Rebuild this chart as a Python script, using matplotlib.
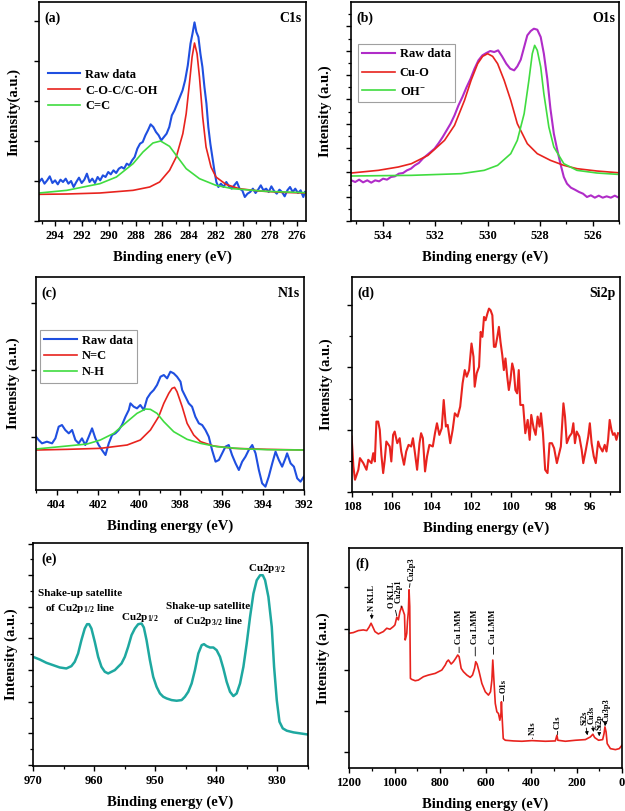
import numpy as np
import matplotlib
matplotlib.use("Agg")
import matplotlib.pyplot as plt
from matplotlib.ticker import MultipleLocator, FixedLocator, NullFormatter

plt.rcParams['font.family'] = ['Liberation Serif', 'DejaVu Serif']
plt.rcParams['font.weight'] = 'bold'
plt.rcParams['mathtext.fontset'] = 'custom'
plt.rcParams['mathtext.rm'] = 'Liberation Serif:bold'
plt.rcParams['mathtext.bf'] = 'Liberation Serif:bold'
plt.rcParams['mathtext.it'] = 'Liberation Serif:bold:italic'
plt.rcParams['mathtext.default'] = 'rm'

# ---------------- (a) C1s ----------------
c1s_raw_ev = [295.19, 294.99, 294.79, 294.59, 294.40, 294.20, 294.00, 293.80, 293.60, 293.41,
              293.21, 293.01, 292.81, 292.62, 292.42, 292.22, 292.02, 291.82, 291.63, 291.43,
              291.23, 291.03, 290.83, 290.64, 290.44, 290.24, 290.04, 289.85, 289.65, 289.45,
              289.25, 289.05, 288.86, 288.66, 288.46, 288.26, 288.07, 287.87, 287.67, 287.47,
              287.27, 287.08, 286.88, 286.68, 286.48, 286.28, 286.09, 285.89, 285.69, 285.49,
              285.30, 285.10, 284.90, 284.70, 284.50, 284.31, 284.11, 283.91, 283.76, 283.61,
              283.47, 283.32, 283.17, 283.02, 282.87, 282.72, 282.58, 282.43, 282.28, 282.13,
              281.98, 281.83, 281.64, 281.44, 281.24, 281.04, 280.84, 280.65, 280.45, 280.25,
              280.05, 279.86, 279.66, 279.46, 279.26, 279.06, 278.87, 278.67, 278.47, 278.27,
              278.08, 277.88, 277.68, 277.48, 277.28, 277.09, 276.89, 276.69, 276.49, 276.29,
              276.10, 275.90, 275.70, 275.50, 275.38]
c1s_raw = [117, 127, 112, 122, 134, 114, 122, 110, 124, 117,
           127, 112, 120, 102, 117, 130, 114, 124, 142, 117,
           127, 114, 132, 122, 137, 132, 147, 140, 152, 144,
           157, 162, 157, 172, 167, 182, 192, 217, 232, 237,
           257, 272, 290, 282, 267, 257, 242, 252, 262, 282,
           317, 332, 352, 372, 392, 422, 467, 532, 562, 596,
           567, 552, 502, 462, 402, 352, 282, 232, 192, 152,
           117, 102, 112, 102, 117, 104, 97, 107, 117, 97,
           92, 72, 82, 87, 97, 84, 94, 107, 92, 97,
           87, 104, 90, 82, 94, 87, 74, 92, 102, 87,
           97, 84, 92, 72, 87]
c1s_coc_ev = [295.19, 293.13, 290.66, 288.19, 286.95, 286.21, 285.47, 284.97, 284.48, 284.23,
              283.99, 283.79, 283.61, 283.42, 283.24, 283.00, 282.75, 282.38, 282.01, 281.27,
              280.28, 278.79, 277.06, 275.38]
c1s_coc = [80, 81, 84, 92, 102, 117, 152, 192, 262, 322,
           412, 492, 534, 502, 432, 312, 222, 162, 132, 110,
           97, 90, 86, 84]
c1s_cc_ev = [295.19, 293.13, 290.66, 289.43, 288.19, 287.45, 286.71, 286.14, 285.47, 284.97,
             284.23, 283.24, 282.01, 280.77, 278.30, 275.38]
c1s_cc = [84, 92, 112, 132, 172, 207, 234, 240, 224, 197,
          157, 127, 107, 97, 89, 85]

# ---------------- (b) O1s ----------------
o1s_raw_ev = [535.19, 535.04, 534.89, 534.74, 534.58, 534.43, 534.28, 534.13, 533.98, 533.83,
              533.68, 533.53, 533.38, 533.22, 533.07, 532.92, 532.77, 532.62, 532.47, 532.32,
              532.17, 532.02, 531.86, 531.71, 531.56, 531.41, 531.26, 531.11, 530.96, 530.81,
              530.65, 530.50, 530.35, 530.20, 530.05, 529.90, 529.75, 529.60, 529.45, 529.29,
              529.14, 528.99, 528.87, 528.74, 528.61, 528.49, 528.36, 528.24, 528.11, 527.98,
              527.86, 527.73, 527.61, 527.48, 527.36, 527.23, 527.10, 526.98, 526.83, 526.68,
              526.52, 526.37, 526.22, 526.07, 525.92, 525.77, 525.62, 525.47, 525.31, 525.16,
              525.06]
o1s_raw = [122, 117, 124, 116, 122, 115, 122, 119, 127, 124,
           132, 134, 142, 144, 152, 157, 167, 174, 187, 197,
           207, 217, 234, 252, 272, 292, 317, 347, 372, 400,
           427, 457, 482, 497, 504, 510, 507, 512, 494, 472,
           457, 452, 464, 484, 522, 557, 570, 577, 574, 552,
           502, 427, 337, 262, 217, 172, 132, 112, 100, 94,
           87, 82, 72, 77, 70, 76, 70, 74, 70, 76,
           72]
o1s_cuo_ev = [535.19, 534.16, 533.40, 532.90, 532.27, 531.64, 531.26, 530.88, 530.63, 530.38,
              530.19, 530.00, 529.81, 529.62, 529.37, 529.12, 528.87, 528.49, 528.11, 527.61,
              527.10, 526.60, 525.84, 525.06]
o1s_cuo = [144, 152, 162, 172, 197, 242, 287, 362, 422, 472,
           494, 502, 494, 472, 422, 362, 292, 232, 202, 182,
           167, 157, 150, 145]
o1s_oh_ev = [535.19, 532.90, 531.01, 530.13, 529.62, 529.12, 528.87, 528.61, 528.43, 528.30,
             528.21, 528.11, 527.98, 527.86, 527.67, 527.48, 527.10, 526.60, 525.84, 525.06]
o1s_oh = [135, 137, 142, 152, 167, 202, 242, 322, 422, 502,
          527, 512, 462, 382, 282, 222, 172, 152, 144, 140]

# ---------------- (c) N1s ----------------
n1s_raw_ev = [405.00, 404.87, 404.71, 404.47, 404.22, 404.06, 403.90, 403.74, 403.58, 403.41,
              403.25, 403.09, 402.93, 402.77, 402.61, 402.44, 402.28, 402.12, 401.96, 401.80,
              401.63, 401.47, 401.31, 401.15, 400.99, 400.83, 400.66, 400.50, 400.42, 400.26,
              400.10, 399.94, 399.77, 399.61, 399.45, 399.29, 399.13, 398.96, 398.80, 398.64,
              398.48, 398.32, 398.16, 397.99, 397.91, 397.75, 397.59, 397.43, 397.27, 397.10,
              396.94, 396.78, 396.62, 396.46, 396.29, 396.13, 395.97, 395.81, 395.65, 395.49,
              395.32, 395.16, 395.00, 394.84, 394.68, 394.51, 394.35, 394.19, 394.03, 393.87,
              393.71, 393.54, 393.38, 393.22, 393.06, 392.90, 392.82, 392.65, 392.49, 392.33,
              392.17, 392.01]
n1s_raw = [160, 150, 140, 145, 140, 155, 190, 195, 180, 170,
           180, 150, 140, 155, 135, 160, 185, 155, 135, 120,
           105, 140, 165, 170, 180, 195, 220, 240, 260, 250,
           245, 255, 240, 275, 290, 300, 315, 340, 345, 335,
           355, 350, 340, 325, 300, 280, 260, 250, 220, 200,
           195, 180, 160, 120, 85, 90, 110, 130, 135, 105,
           80, 60, 85, 100, 120, 135, 110, 60, 20, 10,
           40, 80, 115, 90, 70, 95, 110, 80, 70, 35,
           25, 40]
n1s_nc_ev = [405.00, 403.50, 401.88, 400.58, 399.94, 399.45, 399.05, 398.80, 398.56, 398.40,
             398.28, 398.16, 397.91, 397.67, 397.35, 397.02, 396.38, 395.40, 393.79, 392.01]
n1s_nc = [120, 122, 125, 135, 150, 180, 220, 260, 290, 305,
          308, 295, 250, 200, 165, 145, 132, 125, 122, 120]
n1s_nh_ev = [405.00, 403.50, 402.52, 401.88, 401.23, 400.58, 400.10, 399.69, 399.45, 399.13,
             398.80, 398.32, 397.67, 397.02, 396.21, 395.08, 393.79, 392.01]
n1s_nh = [123, 132, 138, 150, 170, 205, 230, 243, 242, 230,
          205, 175, 152, 140, 130, 124, 121, 120]

# ---------------- (d) Si2p ----------------
si2p_ev = [108.02, 107.93, 107.85, 107.68, 107.60, 107.43, 107.27, 107.18, 107.02, 106.93,
           106.85, 106.77, 106.68, 106.60, 106.52, 106.43, 106.35, 106.27, 106.10, 106.02,
           105.93, 105.85, 105.72, 105.60, 105.52, 105.38, 105.27, 105.15, 105.02, 104.93,
           104.85, 104.72, 104.60, 104.52, 104.43, 104.32, 104.22, 104.10, 103.93, 103.82,
           103.72, 103.60, 103.48, 103.38, 103.27, 103.18, 103.05, 102.93, 102.82, 102.68,
           102.55, 102.43, 102.32, 102.22, 102.10, 101.98, 101.88, 101.82, 101.72, 101.60,
           101.52, 101.43, 101.35, 101.27, 101.18, 101.10, 101.02, 100.93, 100.85, 100.77,
           100.68, 100.60, 100.52, 100.43, 100.35, 100.27, 100.18, 100.10, 100.02, 99.93,
           99.85, 99.77, 99.68, 99.60, 99.52, 99.38, 99.27, 99.15, 99.05, 98.97,
           98.85, 98.75, 98.65, 98.55, 98.48, 98.38, 98.27, 98.15, 98.05, 97.93,
           97.82, 97.68, 97.60, 97.48, 97.35, 97.27, 97.18, 97.05, 96.93, 96.85,
           96.77, 96.68, 96.55, 96.43, 96.35, 96.22, 96.10, 96.02, 95.93, 95.82,
           95.72, 95.60, 95.52, 95.38, 95.27, 95.18, 95.10, 95.02, 94.93, 94.85,
           94.77, 94.68, 94.60]
si2p = [167, 77, 37, 67, 102, 87, 67, 97, 87, 117,
        92, 212, 212, 187, 112, 57, 97, 152, 137, 92,
        172, 182, 147, 162, 122, 82, 122, 142, 137, 162,
        127, 67, 147, 177, 162, 62, 107, 142, 137, 177,
        207, 172, 192, 277, 197, 202, 147, 187, 237, 227,
        257, 327, 367, 347, 367, 447, 407, 317, 357, 377,
        482, 467, 527, 517, 537, 552, 547, 532, 437, 437,
        467, 497, 452, 412, 367, 402, 347, 307, 337, 387,
        367, 307, 297, 367, 262, 262, 177, 217, 157, 232,
        192, 172, 227, 197, 237, 177, 67, 57, 147, 147,
        132, 87, 107, 137, 267, 227, 147, 167, 177, 207,
        147, 182, 167, 127, 87, 127, 167, 207, 147, 107,
        87, 152, 137, 122, 142, 122, 157, 217, 187, 172,
        177, 157, 177]

# ---------------- (e) Cu2p ----------------
cu2p_ev = [970.00, 968.91, 967.81, 966.72, 965.63, 964.54, 963.72, 963.17, 962.62, 962.08,
           961.53, 961.15, 960.82, 960.44, 959.89, 959.34, 958.80, 958.25, 957.70, 957.16,
           956.61, 956.07, 955.52, 954.97, 954.43, 953.88, 953.33, 952.79, 952.24, 951.86,
           951.42, 950.87, 950.33, 949.78, 949.23, 948.69, 948.14, 947.32, 946.50, 945.68,
           945.14, 944.59, 944.04, 943.50, 942.95, 942.40, 942.02, 941.58, 941.04, 940.49,
           939.95, 939.40, 938.85, 938.31, 937.76, 937.21, 936.67, 936.12, 935.57, 935.03,
           934.48, 933.93, 933.39, 932.84, 932.40, 932.02, 931.48, 930.93, 930.55, 930.11,
           929.67, 929.13, 928.47, 927.38, 926.28, 925.19]
cu2p = [328, 320, 310, 303, 296, 293, 300, 313, 338, 378,
        413, 426, 426, 413, 373, 328, 298, 283, 278, 283,
        288, 298, 308, 328, 358, 393, 413, 426, 428, 416,
        378, 318, 268, 238, 218, 208, 203, 198, 196, 198,
        208, 223, 248, 288, 338, 363, 366, 360, 356, 356,
        348, 328, 293, 253, 223, 210, 218, 248, 298, 368,
        448, 518, 558, 573, 573, 558, 508, 418, 298, 198,
        133, 113, 106, 101, 98, 95]
cu2p_notes = ['Shake-up satellite\nof Cu2p$_{1/2}$ line', 'Cu2p$_{1/2}$',
              'Shake-up satellite\nof Cu2p$_{3/2}$ line', 'Cu2p$_{3/2}$']
cu2p_note_ev = [962.3, 952.5, 941.3, 931.7]
cu2p_note_i = [493, 446, 454, 593]

# ---------------- (f) survey ----------------
survey_ev = [1200, 1181, 1159, 1137, 1122, 1112, 1103, 1096, 1086, 1071,
             1049, 1034, 1020, 1005, 998, 990, 983, 976, 968, 961,
             956, 953, 949, 946, 943, 939, 936, 933, 930, 924,
             909, 895, 873, 851, 821, 792, 777, 770, 763, 751,
             741, 731, 722, 716, 707, 697, 682, 667, 657, 648,
             643, 637, 628, 616, 601, 587, 578, 572, 568, 563,
             557, 550, 543, 537, 532, 530, 527, 522, 513, 477,
             440, 396, 337, 293, 286, 282, 249, 205, 161, 139,
             128, 120, 103, 85, 79, 75, 70, 65, 51, 29,
             12, 0]
survey = [403, 405, 411, 413, 411, 421, 433, 423, 408, 401,
          408, 418, 415, 423, 428, 451, 443, 468, 483, 468,
          458, 383, 393, 403, 438, 468, 533, 483, 268, 265,
          261, 263, 273, 278, 283, 293, 308, 318, 323, 311,
          318, 328, 338, 333, 298, 288, 278, 271, 278, 298,
          318, 311, 288, 253, 228, 218, 228, 263, 323, 263,
          193, 168, 163, 143, 163, 198, 153, 88, 83, 81,
          80, 82, 80, 81, 98, 83, 80, 83, 85, 93,
          101, 91, 83, 85, 103, 123, 108, 73, 58, 55,
          58, 68]
survey_labels = ['N KLL', 'O KLL', 'Cu2p1', 'Cu2p3', 'Cu LMM', 'Cu LMM', 'Cu LMM',
                 'O1s', 'N1s', 'C1s', 'Si2s', 'Cu3s', 'Si2p', 'Cu3p3']
survey_label_ev = [1100, 1012, 980, 924, 716, 645, 565, 521, 393, 283, 164, 135, 100, 66]
survey_label_i = [470, 480, 493, 560, 370, 370, 370, 225, 98, 118, 128, 133, 113, 138]
survey_tip_ev = [1100, 990, 970, 934, 716, 645, 565, 521, 393, 283, 152, 125, 100, 75]
survey_tip_i = [445, 455, 480, 540, 345, 335, 340, 200, 88, 100, 98, 108, 95, 125]
survey_arrow = [True, False, False, False, False, False, False,
                False, False, False, True, True, True, True]

BLUE = '#1f4fe0'
RED = '#e8231e'
GREEN = '#40dc40'
MAGENTA = '#b02cc8'
TEAL = '#1ea8a0'

fig = plt.figure(figsize=(6.25, 8.11), dpi=100)


def style_axes(ax, xlim, ylim, xmaj, xmin, yticks_major, yticks_minor, xlabel, ylabel, ypad=6):
    ax.set_xlim(*xlim)
    ax.set_ylim(*ylim)
    ax.xaxis.set_major_locator(MultipleLocator(xmaj))
    ax.xaxis.set_minor_locator(MultipleLocator(xmin))
    ax.yaxis.set_major_locator(FixedLocator(yticks_major))
    ax.yaxis.set_minor_locator(FixedLocator(yticks_minor))
    ax.yaxis.set_major_formatter(NullFormatter())
    ax.tick_params(axis='both', which='major', direction='out', length=3.5, width=1.0,
                   labelsize=9, pad=3, top=False, right=False)
    ax.tick_params(axis='both', which='minor', direction='out', length=2, width=0.9,
                   top=False, right=False)
    for sp in ax.spines.values():
        sp.set_linewidth(1.2)
    ax.set_xlabel(xlabel, fontsize=10.5, fontweight='bold', labelpad=6)
    ax.set_ylabel(ylabel, fontsize=10.5, fontweight='bold', labelpad=ypad)


def corner_labels(ax, left, right):
    ax.text(0.02, 0.955, left, transform=ax.transAxes, fontsize=10, fontweight='bold',
            ha='left', va='top')
    ax.text(0.985, 0.955, right, transform=ax.transAxes, fontsize=10, fontweight='bold',
            ha='right', va='top')


# (a)
ax = fig.add_axes([0.0624, 0.7275, 0.4272, 0.2700])
ax.plot(c1s_raw_ev, c1s_raw, color=BLUE, lw=1.5, label='Raw data')
ax.plot(c1s_coc_ev, c1s_coc, color=RED, lw=1.2, label='C-O-C/C-OH')
ax.plot(c1s_cc_ev, c1s_cc, color=GREEN, lw=1.2, label='C=C')
style_axes(ax, (295.2, 275.3), (0, 657), 2, 1, np.arange(0, 657, 120), [],
           'Binding enery (eV)', 'Intensity(a.u.)', ypad=7)
corner_labels(ax, '(a)', 'C1s')
ax.legend(loc='upper left', bbox_to_anchor=(0.0, 0.735), frameon=False, fontsize=9,
          handlelength=2.6, handletextpad=0.4, labelspacing=0.3, borderaxespad=0.3)

# (b)
ax = fig.add_axes([0.5616, 0.7275, 0.4288, 0.2700])
ax.plot(o1s_raw_ev, o1s_raw, color=MAGENTA, lw=1.5, label='Raw data')
ax.plot(o1s_cuo_ev, o1s_cuo, color=RED, lw=1.2, label='Cu-O')
ax.plot(o1s_oh_ev, o1s_oh, color=GREEN, lw=1.2, label='OH$^{-}$')
style_axes(ax, (535.2, 525.0), (0, 657), 2, 1, np.arange(0, 657, 73), np.arange(0, 657, 36.5),
           'Binding energy (eV)', 'Intensity (a.u.)', ypad=7)
corner_labels(ax, '(b)', 'O1s')
leg = ax.legend(loc='upper left', bbox_to_anchor=(0.025, 0.81), frameon=True, fontsize=9,
                handlelength=2.6, handletextpad=0.4, labelspacing=0.55, borderaxespad=0.0,
                borderpad=0.35, fancybox=False, edgecolor='#888888')
leg.get_frame().set_linewidth(0.8)

# (c)
ax = fig.add_axes([0.0576, 0.3958, 0.4288, 0.2626])
ax.plot(n1s_raw_ev, n1s_raw, color=BLUE, lw=1.5, label='Raw data')
ax.plot(n1s_nc_ev, n1s_nc, color=RED, lw=1.2, label='N=C')
ax.plot(n1s_nh_ev, n1s_nh, color=GREEN, lw=1.2, label='N-H')
style_axes(ax, (405, 392), (0, 639), 2, 1, [158, 360, 562], [],
           'Binding energy (eV)', 'Intensity (a.u.)', ypad=5)
corner_labels(ax, '(c)', 'N1s')
leg = ax.legend(loc='upper left', bbox_to_anchor=(0.015, 0.75), frameon=True, fontsize=9,
                handlelength=2.6, handletextpad=0.4, labelspacing=0.3, borderaxespad=0.0,
                borderpad=0.35, fancybox=False, edgecolor='#888888')
leg.get_frame().set_linewidth(0.8)

# (d)
ax = fig.add_axes([0.5632, 0.3933, 0.4288, 0.2651])
ax.plot(si2p_ev, si2p, color=RED, lw=1.5)
style_axes(ax, (108, 94.5), (0, 647), 2, 1, np.arange(0, 647, 187.5), np.arange(0, 647, 93.75),
           'Binding energy (eV)', 'Intensity (a.u.)', ypad=7)
corner_labels(ax, '(d)', 'Si2p')

# (e)
ax = fig.add_axes([0.0528, 0.0555, 0.4400, 0.2750])
ax.plot(cu2p_ev, cu2p, color=TEAL, lw=1.8)
style_axes(ax, (970, 925), (0, 670), 10, 5, np.arange(3, 670, 95), np.arange(3, 670, 47.5),
           'Binding energy (eV)', 'Intensity (a.u.)', ypad=4)
ax.text(0.03, 0.955, '(e)', transform=ax.transAxes, fontsize=10, fontweight='bold',
        ha='left', va='top')
for note, nx, ny in zip(cu2p_notes, cu2p_note_ev, cu2p_note_i):
    ax.text(nx, ny, note, fontsize=8, fontweight='bold', ha='center', va='center',
            linespacing=1.4)

# (f)
ax = fig.add_axes([0.5584, 0.0530, 0.4368, 0.2713])
ax.plot(survey_ev, survey, color=RED, lw=1.2)
style_axes(ax, (1200, 0), (0, 658), 200, 100, np.arange(48, 658, 123), [],
           'Binding energy (eV)', 'Intensity (a.u.)', ypad=7)
ax.text(0.025, 0.955, '(f)', transform=ax.transAxes, fontsize=10, fontweight='bold',
        ha='left', va='top')
for lab, lx, ly, tx, ty, arr in zip(survey_labels, survey_label_ev, survey_label_i,
                                    survey_tip_ev, survey_tip_i, survey_arrow):
    ax.annotate(lab, xy=(tx, ty), xytext=(lx, ly), rotation=90, fontsize=6,
                fontweight='bold', ha='center', va='bottom',
                arrowprops=dict(arrowstyle='-|>' if arr else '-', lw=0.6, color='black',
                                mutation_scale=5, shrinkA=0, shrinkB=0))

fig.savefig('out.png', dpi=100)
